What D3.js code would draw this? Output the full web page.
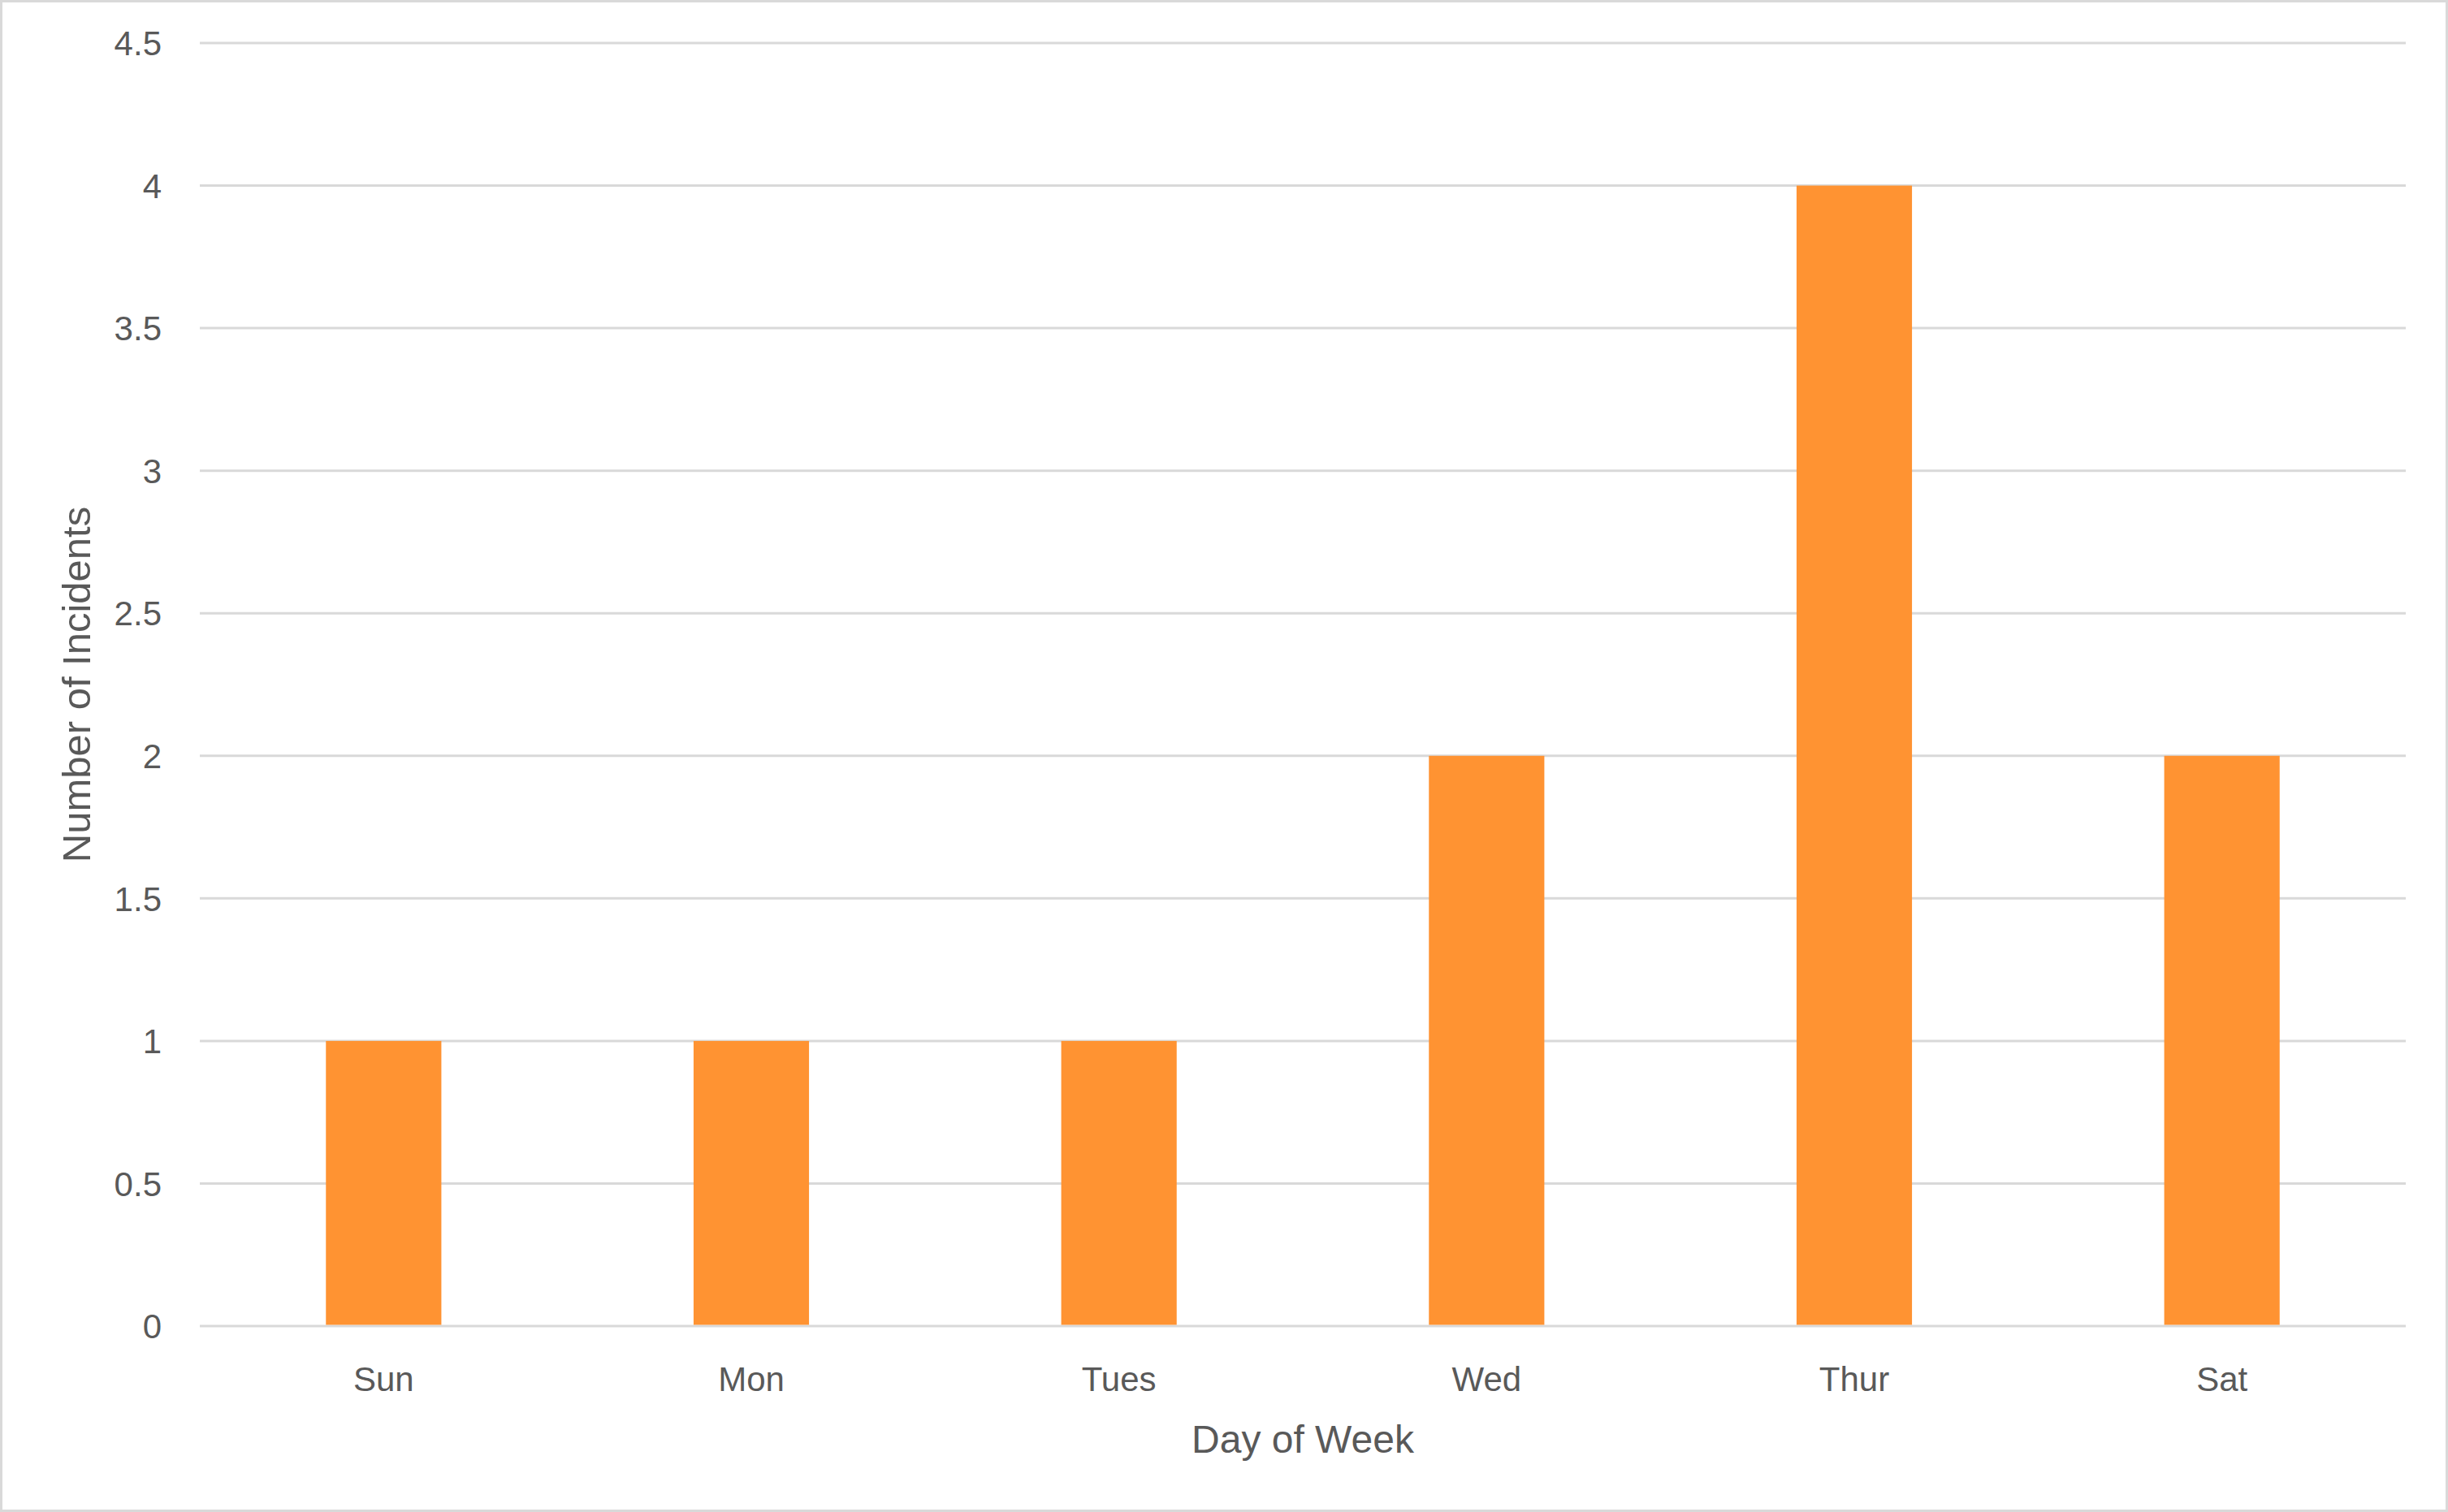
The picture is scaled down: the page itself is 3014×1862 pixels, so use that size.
<!DOCTYPE html>
<html>
<head>
<meta charset="utf-8">
<script src="https://cdn.jsdelivr.net/npm/d3@7"></script>
<style>
  html, body { margin: 0; padding: 0; background: #fff; }
  svg { display: block; }
</style>
</head>
<body>
<div id="chart"></div>
<script>
const days = ["Sun", "Mon", "Tues", "Wed", "Thur", "Sat"];
const incidents = [1, 1, 1, 2, 4, 2];
const yTicks = [0, 0.5, 1, 1.5, 2, 2.5, 3, 3.5, 4, 4.5];

const W = 3014, H = 1862;
const margin = { top: 53, right: 52, bottom: 229, left: 246 };
const innerW = W - margin.left - margin.right;
const innerH = H - margin.top - margin.bottom;

const textColor = "#595959";
const gridColor = "#d9d9d9";
const barColor = "#ff9332";
const font = "'Liberation Sans', Arial, sans-serif";

const svg = d3.select("#chart")
    .append("svg")
    .attr("width", W)
    .attr("height", H);

// outer frame
svg.append("rect")
    .attr("x", 1.5).attr("y", 1.5)
    .attr("width", W - 3).attr("height", H - 3)
    .attr("fill", "#fff")
    .attr("stroke", gridColor)
    .attr("stroke-width", 3);

const g = svg.append("g")
    .attr("transform", `translate(${margin.left},${margin.top})`);

const x = d3.scaleBand()
    .domain(days)
    .range([0, innerW])
    .padding(0);

const y = d3.scaleLinear()
    .domain([0, 4.5])
    .range([innerH, 0]);

// gridlines
g.append("g")
    .selectAll("line")
    .data(yTicks)
    .join("line")
    .attr("x1", 0)
    .attr("x2", innerW)
    .attr("y1", d => y(d))
    .attr("y2", d => y(d))
    .attr("stroke", gridColor)
    .attr("stroke-width", 3);

// bars
const barW = x.bandwidth() * 0.314;
g.append("g")
    .selectAll("rect")
    .data(days.map((d, i) => ({ day: d, value: incidents[i] })))
    .join("rect")
    .attr("x", d => x(d.day) + x.bandwidth() / 2 - barW / 2)
    .attr("y", d => y(d.value))
    .attr("width", barW)
    .attr("height", d => y(0) - y(d.value) - 1.5)
    .attr("fill", barColor);

// y axis labels
const yAxis = g.append("g")
    .call(d3.axisLeft(y).tickValues(yTicks).tickSize(0).tickPadding(47).tickFormat(d3.format("")));
yAxis.select(".domain").remove();
yAxis.selectAll("text")
    .attr("fill", textColor)
    .attr("dy", "0.35em")
    .style("font-family", font)
    .style("font-size", "42px");

// x axis labels
const xAxis = g.append("g")
    .attr("transform", `translate(0,${innerH})`)
    .call(d3.axisBottom(x).tickSize(0).tickPadding(0));
xAxis.select(".domain").remove();
xAxis.selectAll("text")
    .attr("fill", textColor)
    .attr("y", 80)
    .attr("dy", 0)
    .style("font-family", font)
    .style("font-size", "42px");

// axis titles
svg.append("text")
    .attr("x", margin.left + innerW / 2)
    .attr("y", 1789)
    .attr("text-anchor", "middle")
    .attr("fill", textColor)
    .style("font-family", font)
    .style("font-size", "48px")
    .text("Day of Week");

svg.append("text")
    .attr("transform", "translate(111,843) rotate(-90)")
    .attr("text-anchor", "middle")
    .attr("fill", textColor)
    .style("font-family", font)
    .style("font-size", "49px")
    .text("Number of Incidents");
</script>
</body>
</html>
